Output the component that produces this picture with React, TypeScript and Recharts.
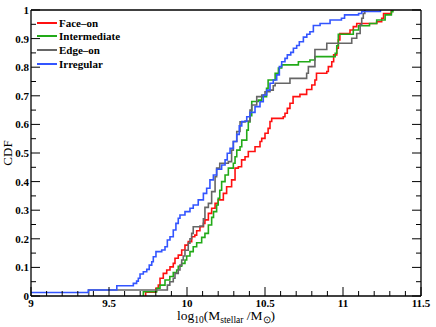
import React from "react";
import {Legend, Line, LineChart, XAxis, YAxis} from "recharts";

// CDF steps: [log10 M*, cumulative fraction after the step]
const faceOn: [number, number][] = [
    [9.735, 0], [9.735, 0.013], [9.8, 0.027], [9.816, 0.038], [9.827, 0.062], [9.848, 0.079],
    [9.87, 0.091], [9.891, 0.102], [9.912, 0.114], [9.923, 0.132], [9.944, 0.143], [9.966, 0.161],
    [9.987, 0.178], [10.008, 0.19], [10.03, 0.207], [10.05, 0.213], [10.062, 0.228], [10.083, 0.242],
    [10.105, 0.254], [10.115, 0.266], [10.137, 0.289], [10.158, 0.307], [10.18, 0.324], [10.2, 0.336],
    [10.233, 0.359], [10.254, 0.382], [10.286, 0.406], [10.308, 0.447], [10.329, 0.452], [10.35, 0.476],
    [10.372, 0.487], [10.393, 0.505], [10.436, 0.522], [10.468, 0.54], [10.479, 0.551], [10.5, 0.569],
    [10.52, 0.586], [10.532, 0.61], [10.543, 0.621], [10.617, 0.627], [10.628, 0.639], [10.643, 0.656],
    [10.66, 0.674], [10.68, 0.697], [10.724, 0.705], [10.767, 0.722], [10.8, 0.738], [10.82, 0.755],
    [10.83, 0.779], [10.896, 0.785], [10.906, 0.802], [10.928, 0.819], [10.94, 0.843], [10.96, 0.866],
    [10.97, 0.895], [10.98, 0.918], [11.045, 0.93], [11.066, 0.942], [11.088, 0.953], [11.216, 0.959],
    [11.248, 0.971], [11.26, 0.988], [11.31, 1.0],
];

const intermediate: [number, number][] = [
    [9.72, 0], [9.72, 0.015], [9.806, 0.027], [9.827, 0.038], [9.859, 0.056], [9.89, 0.068],
    [9.912, 0.082], [9.934, 0.091], [9.944, 0.104], [9.966, 0.114], [9.987, 0.126], [9.998, 0.14],
    [10.019, 0.155], [10.04, 0.172], [10.062, 0.186], [10.094, 0.205], [10.115, 0.219], [10.137, 0.248],
    [10.158, 0.275], [10.17, 0.295], [10.19, 0.318], [10.2, 0.342], [10.21, 0.37], [10.222, 0.4],
    [10.244, 0.423], [10.265, 0.447], [10.297, 0.464], [10.308, 0.487], [10.319, 0.51], [10.34, 0.522],
    [10.351, 0.545], [10.383, 0.58], [10.393, 0.609], [10.404, 0.63], [10.415, 0.68], [10.457, 0.685],
    [10.479, 0.697], [10.51, 0.726], [10.52, 0.755], [10.565, 0.779], [10.586, 0.797], [10.607, 0.808],
    [10.714, 0.819], [10.788, 0.825], [10.82, 0.837], [10.95, 0.849], [10.96, 0.875], [10.97, 0.915],
    [11.066, 0.93], [11.1, 0.945], [11.17, 0.953], [11.216, 0.965], [11.27, 0.983], [11.31, 0.994],
    [11.32, 1.0],
];

const edgeOn: [number, number][] = [
    [9.37, 0], [9.37, 0.021], [9.874, 0.038], [9.89, 0.05], [9.912, 0.062], [9.923, 0.079],
    [9.944, 0.091], [9.955, 0.108], [9.966, 0.126], [9.976, 0.14], [9.987, 0.16], [10.008, 0.185],
    [10.019, 0.2], [10.03, 0.219], [10.04, 0.242], [10.083, 0.245], [10.105, 0.27], [10.115, 0.31],
    [10.137, 0.324], [10.158, 0.365], [10.18, 0.417], [10.19, 0.447], [10.21, 0.464], [10.265, 0.47],
    [10.286, 0.51], [10.297, 0.54], [10.319, 0.575], [10.34, 0.609], [10.372, 0.612], [10.404, 0.65],
    [10.415, 0.668], [10.447, 0.697], [10.479, 0.703], [10.5, 0.714], [10.532, 0.72], [10.553, 0.735],
    [10.565, 0.744], [10.66, 0.761], [10.767, 0.779], [10.778, 0.802], [10.82, 0.862], [10.896, 0.884],
    [11.056, 0.901], [11.088, 0.918], [11.11, 0.948], [11.12, 0.971], [11.13, 0.988], [11.14, 1.0],
];

const irregular: [number, number][] = [
    [9.0, 0.012], [9.367, 0.021], [9.55, 0.036], [9.656, 0.044], [9.677, 0.052], [9.688, 0.062],
    [9.699, 0.077], [9.72, 0.085], [9.742, 0.093], [9.758, 0.108], [9.774, 0.12], [9.784, 0.137],
    [9.801, 0.155], [9.838, 0.161], [9.859, 0.172], [9.874, 0.196], [9.891, 0.207], [9.912, 0.231],
    [9.929, 0.254], [9.944, 0.272], [9.955, 0.283], [9.987, 0.295], [10.019, 0.307], [10.04, 0.318],
    [10.072, 0.336], [10.105, 0.359], [10.126, 0.377], [10.147, 0.406], [10.169, 0.423], [10.19, 0.443],
    [10.222, 0.458], [10.244, 0.476], [10.258, 0.499], [10.276, 0.516], [10.297, 0.54], [10.319, 0.565],
    [10.335, 0.595], [10.351, 0.61], [10.383, 0.627], [10.404, 0.642], [10.436, 0.662], [10.468, 0.679],
    [10.489, 0.703], [10.511, 0.72], [10.532, 0.744], [10.553, 0.755], [10.575, 0.773], [10.592, 0.802],
    [10.607, 0.819], [10.628, 0.831], [10.643, 0.843], [10.665, 0.852], [10.682, 0.866], [10.703, 0.876],
    [10.72, 0.889], [10.746, 0.905], [10.768, 0.915], [10.788, 0.924], [10.81, 0.946], [10.853, 0.953],
    [10.917, 0.965], [10.99, 0.971], [11.01, 0.983], [11.1, 0.988], [11.12, 0.995], [11.24, 1.0],
];

const seriesNames = ["Face\u2013on", "Intermediate", "Edge\u2013on", "Irregular"];
const seriesColors = ["#ff1010", "#22aa18", "#666666", "#3355ff"];
const seriesPoints = [faceOn, intermediate, edgeOn, irregular];

const xMajor = [9, 9.5, 10, 10.5, 11, 11.5];
const yMajor = [0, 0.1, 0.2, 0.3, 0.4, 0.5, 0.6, 0.7, 0.8, 0.9, 1];

// minor ticks sit between the major ones (5 per 0.5 on x, 2 per 0.1 on y)
const withMinor = (major: number[], parts: number) => {
    const out: number[] = [];
    major.forEach((v, i) => {
        out.push(v);
        if (i < major.length - 1) {
            const step = (major[i + 1] - v) / parts;
            for (let k = 1; k < parts; k++) out.push(Math.round((v + k * step) * 1000) / 1000);
        }
    });
    return out;
};
const xTicks = withMinor(xMajor, 5);
const yTicks = withMinor(yMajor, 2);

const isMajor = (v: number, major: number[]) => major.some((m) => Math.abs(m - v) < 1e-6);

const tickFont = {fontFamily: "'Liberation Serif', 'Times New Roman', serif", fontWeight: 700, fontSize: 11};
const MAJOR = 9;
const MINOR = 5;

const BottomTick = (props: any) => {
    const {x, y, payload} = props;
    const major = isMajor(payload.value, xMajor);
    const axisY = y - 3;
    return (
        <g>
            <line x1={x} x2={x} y1={axisY} y2={axisY - (major ? MAJOR : MINOR)} stroke="#000" strokeWidth={1}/>
            {major && (
                <text x={x} y={y} dy="0.71em" textAnchor="middle" fill="#000" style={tickFont}>
                    {payload.value}
                </text>
            )}
        </g>
    );
};

const TopTick = (props: any) => {
    const {x, y, payload} = props;
    const major = isMajor(payload.value, xMajor);
    return <line x1={x} x2={x} y1={y} y2={y + (major ? MAJOR : MINOR)} stroke="#000" strokeWidth={1}/>;
};

const LeftTick = (props: any) => {
    const {x, y, payload} = props;
    const major = isMajor(payload.value, yMajor);
    const axisX = x + 2;
    return (
        <g>
            <line x1={axisX} x2={axisX + (major ? MAJOR : MINOR)} y1={y} y2={y} stroke="#000" strokeWidth={1}/>
            {major && (
                <text x={x} y={y} dy="0.36em" textAnchor="end" fill="#000" style={tickFont}>
                    {payload.value}
                </text>
            )}
        </g>
    );
};

const RightTick = (props: any) => {
    const {x, y, payload} = props;
    const major = isMajor(payload.value, yMajor);
    return <line x1={x} x2={x - (major ? MAJOR : MINOR)} y1={y} y2={y} stroke="#000" strokeWidth={1}/>;
};

const XTitle = (props: any) => {
    const {viewBox} = props;
    const cx = viewBox.x + viewBox.width / 2;
    return (
        <text x={cx} y={320} textAnchor="middle" fill="#000"
              style={{fontFamily: "'Liberation Serif', serif", fontSize: 13.5}}>
            log
            <tspan fontSize={9.5} dy={3}>10</tspan>
            <tspan dy={-3}>(M</tspan>
            <tspan fontSize={9.5} dy={3}>stellar</tspan>
            <tspan dy={-3}> /M</tspan>
            <tspan fontSize={9.5} dy={3}>{"\u2299"}</tspan>
            <tspan dy={-3}>)</tspan>
        </text>
    );
};

const YTitle = () => (
    <text x={12} y={153} textAnchor="middle" fill="#000" transform="rotate(-90, 12, 153)"
          style={{fontFamily: "'Liberation Serif', serif", fontSize: 13}}>
        CDF
    </text>
);

const renderLegend = () => (
    <div style={{fontFamily: "'Liberation Serif', serif", fontWeight: 700, fontSize: 11, color: "#000"}}>
        {seriesNames.map((name, i) => (
            <div key={name} style={{display: "flex", alignItems: "center", height: 13.6, whiteSpace: "nowrap"}}>
                <span style={{display: "inline-block", width: 20, borderTop: `2px solid ${seriesColors[i]}`, marginRight: 2}}/>
                <span>{name}</span>
            </div>
        ))}
    </div>
);

export default function App() {
    return (
        <div style={{position: "absolute", left: 0, top: 0, width: 436, height: 327, background: "#fff"}}>
            <LineChart width={436} height={327} margin={{top: 0, right: 0, bottom: 0, left: 0}}>
                <XAxis xAxisId={0} dataKey="x" type="number" domain={[9, 11.5]} ticks={xTicks} interval={0}
                       height={31} tickSize={0} tickMargin={3} tickLine={false}
                       axisLine={{stroke: "#000", strokeWidth: 1.3}} tick={<BottomTick/>}
                       allowDataOverflow label={{content: <XTitle/>}}/>
                <XAxis xAxisId="top" orientation="top" type="number" domain={[9, 11.5]} ticks={xTicks}
                       interval={0} height={10} tickSize={0} tickMargin={0} tickLine={false}
                       axisLine={{stroke: "#000", strokeWidth: 1.3}} tick={<TopTick/>} allowDataOverflow/>
                <YAxis yAxisId={0} type="number" domain={[0, 1]} ticks={yTicks} interval={0} width={31}
                       tickSize={0} tickMargin={2} tickLine={false}
                       axisLine={{stroke: "#000", strokeWidth: 1.3}} tick={<LeftTick/>}
                       allowDataOverflow label={{content: <YTitle/>}}/>
                <YAxis yAxisId="right" orientation="right" type="number" domain={[0, 1]} ticks={yTicks}
                       interval={0} width={15} tickSize={0} tickMargin={0} tickLine={false}
                       axisLine={{stroke: "#000", strokeWidth: 1.3}} tick={<RightTick/>} allowDataOverflow/>
                {seriesPoints.map((pts, i) => (
                    <Line
                        key={seriesNames[i]}
                        name={seriesNames[i]}
                        data={pts.map(([x, y]) => ({x, y}))}
                        dataKey="y"
                        type="stepAfter"
                        stroke={seriesColors[i]}
                        strokeWidth={1.6}
                        strokeLinejoin="miter"
                        dot={false}
                        activeDot={false}
                        isAnimationActive={false}
                    />
                ))}
                <Legend layout="vertical" align="center" verticalAlign="middle" content={renderLegend}
                        wrapperStyle={{left: 37, top: 16, width: "auto", height: "auto"}}/>
            </LineChart>
        </div>
    );
}
